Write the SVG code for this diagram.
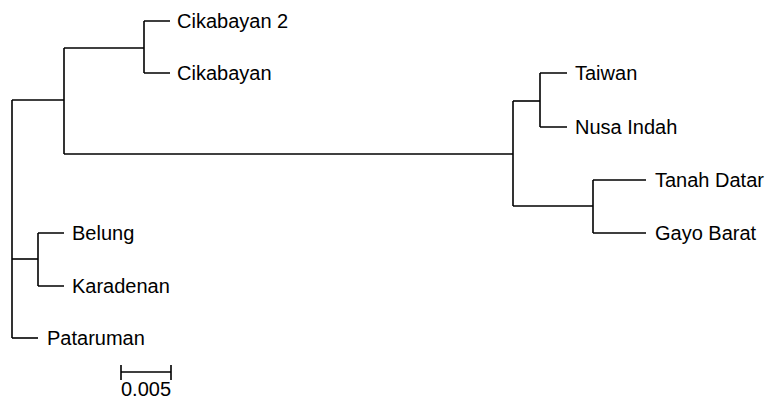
<svg xmlns="http://www.w3.org/2000/svg" width="771" height="400" viewBox="0 0 771 400">
<style>
.br{fill:none;stroke:#000;stroke-width:1.6;stroke-linecap:butt;stroke-linejoin:miter}
.lb{font-family:"Liberation Sans",Arial,sans-serif;font-size:20px;fill:#000}
</style>
<rect width="771" height="400" fill="#fff"/>
<g id="connectors" class="br">
<path d="M12,100V338"/>
<path d="M12,100H64"/>
<path d="M64,48V154"/>
<path d="M64,48H144"/>
<path d="M144,21V73"/>
<path d="M144,21H170M144,73H170"/>
<path d="M64,154H513"/>
<path d="M513,101V206"/>
<path d="M513,101H540"/>
<path d="M540,73V127"/>
<path d="M540,73H567M540,127H567"/>
<path d="M513,206H593"/>
<path d="M593,180V233"/>
<path d="M593,180H646M593,233H646"/>
<path d="M12,259H38"/>
<path d="M38,233V286"/>
<path d="M38,233H64M38,286H64"/>
<path d="M12,338H38"/>
</g>
<g id="cikabayan2"><text class="lb" x="177" y="28">Cikabayan 2</text></g>
<g id="cikabayan"><text class="lb" x="177" y="80">Cikabayan</text></g>
<g id="taiwan"><text class="lb" x="575" y="80">Taiwan</text></g>
<g id="nusaindah"><text class="lb" x="575" y="134">Nusa Indah</text></g>
<g id="tanahdatar"><text class="lb" x="655" y="187">Tanah Datar</text></g>
<g id="gayobarat"><text class="lb" x="655" y="240">Gayo Barat</text></g>
<g id="belung"><text class="lb" x="72" y="240">Belung</text></g>
<g id="karadenan"><text class="lb" x="72" y="293">Karadenan</text></g>
<g id="pataruman"><text class="lb" x="47" y="345">Pataruman</text></g>
<g id="scale">
<path class="br" d="M121,372H171M121,365V380M171,365V380"/>
<text class="lb" x="121" y="396">0.005</text>
</g>
</svg>
